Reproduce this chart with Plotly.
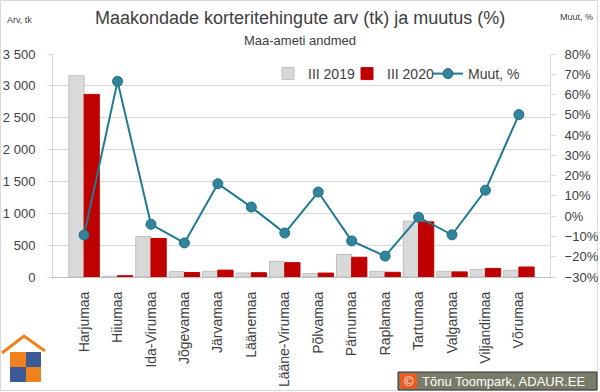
import plotly.graph_objects as go

categories = ["Harjumaa", "Hiiumaa", "Ida-Virumaa", "Jõgevamaa", "Järvamaa", "Läänemaa",
              "Lääne-Virumaa", "Põlvamaa", "Pärnumaa", "Raplamaa", "Tartumaa", "Valgamaa",
              "Viljandimaa", "Võrumaa"]
y2019 = [3160, 12, 635, 85, 90, 63, 245, 55, 355, 90, 877, 90, 120, 105]
y2020 = [2866, 20, 604, 70, 108, 67, 225, 62, 310, 74, 866, 80, 135, 157]
muut = [-9.3, 66.5, -4.0, -13.2, 16.0, 4.5, -8.3, 11.9, -12.2, -19.7, -0.5, -9.2, 12.8, 50.1]

W, H = 600, 392
L, R, T, B = 53, 50, 54, 115
pw, ph = W - L - R, H - T - B

def px(x):
    return (x - L) / pw

def py(y):
    return (H - B - y) / ph

FONT = "Liberation Sans"
TXT = "#404040"

fig = go.Figure()
fig.add_trace(go.Bar(x=categories, y=y2019, name="III 2019", legend="legend",
                     marker=dict(color="#d9d9d9", line=dict(color="#bfbfbf", width=1))))
fig.add_trace(go.Bar(x=categories, y=y2020, name="III 2020", legend="legend2",
                     marker=dict(color="#c00000", line=dict(color="#c00000", width=1))))
fig.add_trace(go.Scatter(x=categories, y=muut, name="Muut, %", yaxis="y2", legend="legend3",
                         mode="lines+markers",
                         line=dict(color="#1f7a91", width=2),
                         marker=dict(size=10, color="#31849b", line=dict(color="#1f6f85", width=1))))

shapes = [
    dict(type="rect", xref="paper", yref="paper", x0=px(0.5), x1=px(597.5), y0=py(0.5), y1=py(390.5),
         line=dict(color="#d9d9d9", width=1), fillcolor="rgba(0,0,0,0)", layer="below"),
    dict(type="path", xref="paper", yref="paper",
         path=f"M {px(2)} {py(353)} L {px(24)} {py(336)} L {px(45)} {py(351)}",
         line=dict(color="#f0821e", width=3)),
    dict(type="rect", xref="paper", yref="paper", x0=px(10), x1=px(26), y0=py(352), y1=py(367),
         fillcolor="#f0821e", line=dict(width=0)),
    dict(type="rect", xref="paper", yref="paper", x0=px(26), x1=px(41), y0=py(352), y1=py(367),
         fillcolor="#3c5a96", line=dict(width=0)),
    dict(type="rect", xref="paper", yref="paper", x0=px(10), x1=px(26), y0=py(367), y1=py(382),
         fillcolor="#3c5a96", line=dict(width=0)),
    dict(type="rect", xref="paper", yref="paper", x0=px(26), x1=px(41), y0=py(367), y1=py(382),
         fillcolor="#f0821e", line=dict(width=0)),
    dict(type="rect", xref="paper", yref="paper", x0=px(398), x1=px(597), y0=py(372), y1=py(390),
         fillcolor="#7a7a68", line=dict(color="#333333", width=1)),
    dict(type="rect", xref="paper", yref="paper", x0=px(400), x1=px(417), y0=py(373.5), y1=py(388.5),
         fillcolor="#f05a1e", line=dict(width=0)),
]

annotations = [
    dict(text="Maakondade korteritehingute arv (tk) ja muutus (%)", x=px(300), y=py(18),
         xref="paper", yref="paper", showarrow=False, xanchor="center", yanchor="middle",
         font=dict(family=FONT, size=18, color=TXT)),
    dict(text="Maa-ameti andmed", x=px(300), y=py(40), xref="paper", yref="paper", showarrow=False,
         xanchor="center", yanchor="middle", font=dict(family=FONT, size=13, color=TXT)),
    dict(text="Arv, tk", x=px(5), y=py(20), xref="paper", yref="paper", showarrow=False,
         xanchor="left", yanchor="middle", font=dict(family=FONT, size=9, color=TXT)),
    dict(text="Muut, %", x=px(558), y=py(17), xref="paper", yref="paper", showarrow=False,
         xanchor="left", yanchor="middle", font=dict(family=FONT, size=9, color=TXT)),
    dict(text="©", x=px(408.5), y=py(381), xref="paper", yref="paper", showarrow=False,
         xanchor="center", yanchor="middle", font=dict(family=FONT, size=13, color="white")),
    dict(text="Tõnu Toompark, ADAUR.EE", x=px(420), y=py(381), xref="paper", yref="paper",
         showarrow=False, xanchor="left", yanchor="middle", font=dict(family=FONT, size=13, color="white")),
]

def leg(xpix):
    return dict(orientation="h", x=px(xpix), y=py(58), xanchor="left", yanchor="top",
                font=dict(family=FONT, size=14, color=TXT), bgcolor="rgba(255,255,255,0)",
                itemwidth=30)

fig.update_layout(
    width=W, height=H,
    margin=dict(l=L, r=R, t=T, b=B, pad=0, autoexpand=False),
    paper_bgcolor="white", plot_bgcolor="white",
    separators=", ",
    barmode="group", bargap=0.09, bargroupgap=0.0,
    font=dict(family=FONT, size=13, color=TXT),
    showlegend=True,
    legend=leg(268), legend2=leg(347), legend3=leg(428),
    xaxis=dict(tickangle=-90, showline=True, linecolor="#bfbfbf", ticks="", showgrid=False,
               ticklabelstandoff=8,
               tickfont=dict(family=FONT, size=14, color=TXT)),
    yaxis=dict(range=[0, 3500], dtick=500, tickformat=",d", showgrid=True, gridcolor="#d9d9d9",
               showline=True, linecolor="#d9d9d9", ticks="outside", ticklen=5, tickcolor="#d9d9d9",
               ticklabelstandoff=9,
               zeroline=False, tickfont=dict(family=FONT, size=13, color=TXT)),
    yaxis2=dict(range=[-30, 80], dtick=10, ticksuffix="%", overlaying="y", side="right",
                showgrid=False, zeroline=False, showline=True, linecolor="#d9d9d9",
                ticks="outside", ticklen=5, tickcolor="#d9d9d9", ticklabelstandoff=6,
                tickfont=dict(family=FONT, size=13, color=TXT)),
    shapes=shapes, annotations=annotations,
)

fig.write_html("out.html", config={"displayModeBar": False},
               post_script="document.body.style.margin='0';window.dispatchEvent(new Event('resize'));")
